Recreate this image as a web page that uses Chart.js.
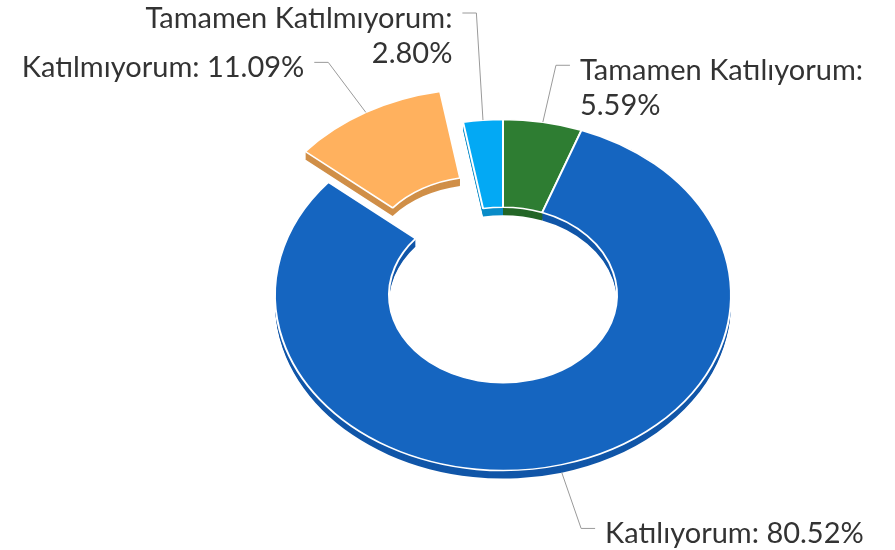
<!DOCTYPE html>
<html><head><meta charset="utf-8">
<script src="https://cdn.jsdelivr.net/npm/chart.js@4.4.0/dist/chart.umd.min.js"></script>
<style>html,body{margin:0;padding:0;background:#fff;overflow:hidden}canvas{display:block}</style>
</head><body>
<canvas id="c" width="895" height="550" style="width:895px;height:550px"></canvas>
<script>
// ---- data ----
const categories = ['Tamamen Katılıyorum', 'Katılıyorum', 'Katılmıyorum', 'Tamamen Katılmıyorum'];
const shares = [5.59, 80.52, 11.09, 2.80];
const topColors = ['#2e7d32', '#1565c0', '#ffb15e', '#03a9f4'];
const sideColors = ['#246627', '#1156a8', '#d08f48', '#0a8cc8'];
const explodedCategory = 'Katılmıyorum';

// ---- styling ----
const TILT = 0.77, DEPTH = 8, EXPLODE = 46;
const LABEL_DIST = 75, STUB = 14, GAP = 10, LINE_H = 35, MIN_Y = 13, MAX_LABEL_W = 340;
const FONT = '400 29px Lato';
const TEXT_COLOR = '#333333';

function shiftFor(arc, i) {
  if (categories[i] !== explodedCategory) return {dx: 0, dy: 0};
  const mid = (arc.startAngle + arc.endAngle) / 2;
  return {dx: Math.cos(mid) * EXPLODE, dy: Math.sin(mid) * EXPLODE};
}
function tilt(ctx, arc) {
  ctx.translate(arc.x, arc.y);
  ctx.scale(1, TILT);
  ctx.translate(-arc.x, -arc.y);
}

const tiltPlugin = {
  id: 'tilt3d',
  beforeDatasetDraw(chart, args) {
    const ctx = chart.ctx;
    const arcs = args.meta.data;
    // extruded sides
    for (let d = DEPTH; d >= 1; d--) {
      arcs.forEach((arc, i) => {
        ctx.save();
        ctx.translate(0, d);
        tilt(ctx, arc);
        const s = shiftFor(arc, i);
        ctx.translate(s.dx, s.dy);
        const saved = arc.options;
        arc.options = Object.assign({}, saved, {backgroundColor: sideColors[i], borderColor: sideColors[i], borderWidth: 0});
        arc.draw(ctx);
        arc.options = saved;
        ctx.restore();
      });
    }
    // top faces
    arcs.forEach((arc, i) => {
      ctx.save();
      tilt(ctx, arc);
      const s = shiftFor(arc, i);
      ctx.translate(s.dx, s.dy);
      arc.draw(ctx);
      ctx.restore();
    });
    return false;
  }
};

const labelPlugin = {
  id: 'sliceLabels',
  afterDatasetsDraw(chart) {
    const ctx = chart.ctx;
    const meta = chart.getDatasetMeta(0);
    ctx.save();
    ctx.font = FONT;
    const items = meta.data.map((arc, i) => {
      const mid = (arc.startAngle + arc.endAngle) / 2;
      const s = shiftFor(arc, i);
      const px = arc.x + Math.cos(mid) * arc.outerRadius + s.dx;
      const py = arc.y + (Math.sin(mid) * arc.outerRadius + s.dy) * TILT + (Math.sin(mid) > 0 ? DEPTH : 0);
      const ex = px + Math.cos(mid) * LABEL_DIST;
      const ey = py + Math.sin(mid) * LABEL_DIST * TILT;
      const right = Math.cos(mid) >= 0;
      const value = shares[i].toFixed(2) + '%';
      const full = categories[i] + ': ' + value;
      const lines = ctx.measureText(full).width > MAX_LABEL_W ? [categories[i] + ':', value] : [full];
      const order = Math.sin(mid);
      return {px, py, ex, ey, right, lines, order};
    });
    [true, false].forEach(side => {
      const list = items.filter(it => it.right === side).sort((a, b) => b.order - a.order);
      let limit = Infinity;
      list.forEach(it => {
        const bottomOff = 15 + (it.lines.length - 1) * LINE_H;
        if (it.ey + bottomOff > limit) it.ey = limit - bottomOff;
        it.ey = Math.max(it.ey, MIN_Y);
        limit = it.ey - 2;
      });
    });
    items.forEach(it => {
      const dir = it.right ? 1 : -1;
      ctx.beginPath();
      ctx.moveTo(it.px, it.py);
      ctx.lineTo(it.ex, it.ey);
      ctx.lineTo(it.ex + dir * STUB, it.ey);
      ctx.strokeStyle = '#9a9a9a';
      ctx.lineWidth = 1;
      ctx.stroke();
      ctx.fillStyle = TEXT_COLOR;
      ctx.textAlign = it.right ? 'left' : 'right';
      ctx.textBaseline = 'alphabetic';
      const tx = it.ex + dir * (STUB + GAP);
      it.lines.forEach((ln, k) => ctx.fillText(ln, tx, it.ey + 15 + k * LINE_H));
    });
    ctx.restore();
  }
};

new Chart(document.getElementById('c'), {
  type: 'doughnut',
  data: {
    labels: categories,
    datasets: [{
      data: shares,
      backgroundColor: topColors,
      borderColor: '#ffffff',
      borderWidth: 2
    }]
  },
  options: {
    responsive: false,
    devicePixelRatio: 1,
    animation: false,
    events: [],
    radius: 228,
    cutout: '50%',
    layout: {padding: {left: 111, top: 40, right: 0, bottom: 0}},
    plugins: {legend: {display: false}, tooltip: {enabled: false}}
  },
  plugins: [tiltPlugin, labelPlugin]
});
</script>
</body></html>
